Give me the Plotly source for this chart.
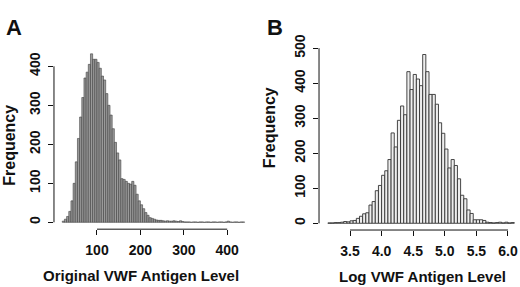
import numpy as np
import plotly.graph_objects as go

# ---------------- Data ----------------
# Panel A: original VWF antigen level histogram (bin width 5, starting at 20)
a_bin_start = 20
a_bin_width = 5
a_counts = [3, 8, 15, 28, 55, 100, 155, 215, 270, 320,
            370, 385, 405, 432, 418, 418, 410, 395, 375, 365,
            330, 300, 275, 240, 205, 178, 160, 112, 110, 105,
            100, 98, 105, 95, 72, 55, 45, 35, 25, 18,
            12, 10, 8, 6, 5, 5, 4, 3, 4, 3,
            3, 4, 3, 2, 4, 2, 1, 1, 1, 0,
            1, 1, 0, 1, 1, 0, 1, 1, 0, 1,
            1, 0, 1, 1, 0, 1, 3, 1, 0, 1,
            1, 0, 1, 1]
a_xticks = [100, 200, 300, 400]
a_yticks = [0, 100, 200, 300, 400]

# Panel B: log VWF antigen level histogram (bin width 0.05, starting at 3.15)
b_bin_start = 3.15
b_bin_width = 0.05
b_counts = [1, 1, 2, 2, 3, 5, 4, 7, 8, 14,
            20, 27, 30, 52, 62, 93, 108, 137, 150, 182,
            258, 218, 294, 335, 310, 433, 382, 425, 412, 393,
            482, 433, 368, 368, 340, 287, 257, 212, 158, 182,
            165, 127, 80, 70, 38, 28, 10, 10, 10, 8,
            3, 2, 1, 2, 3, 1, 3, 1, 2]
b_xticks = [3.5, 4.0, 4.5, 5.0, 5.5, 6.0]
b_xticklabels = ["3.5", "4.0", "4.5", "5.0", "5.5", "6.0"]
b_yticks = [0, 100, 200, 300, 400, 500]

# ---------------- Figure ----------------
FONT = "Liberation Sans, Arial, sans-serif"

a_x = a_bin_start + a_bin_width * (np.arange(len(a_counts)) + 0.5)
b_x = b_bin_start + b_bin_width * (np.arange(len(b_counts)) + 0.5)

fig = go.Figure()
fig.add_trace(go.Bar(
    x=a_x, y=a_counts, width=a_bin_width,
    marker=dict(color="#9a9a9a", line=dict(color="#404040", width=0.6)),
    xaxis="x", yaxis="y", showlegend=False, hoverinfo="skip"))
fig.add_trace(go.Bar(
    x=b_x, y=b_counts, width=b_bin_width,
    marker=dict(color="#eeeeee", line=dict(color="#333333", width=0.9)),
    xaxis="x2", yaxis="y2", showlegend=False, hoverinfo="skip"))

tickfont = dict(family=FONT, size=14, color="#111111", weight="bold")
common_x = dict(showgrid=False, zeroline=False, showline=False, ticks="outside",
                ticklen=5, tickwidth=1, tickcolor="#111111", tickfont=tickfont,
                ticklabelstandoff=3)
common_y = dict(showgrid=False, zeroline=False, showline=False, ticks="outside",
                ticklen=5, tickwidth=1, tickcolor="#111111", tickfont=tickfont,
                tickangle=-90, ticklabelstandoff=2)

fig.update_layout(
    width=520, height=287,
    margin=dict(l=0, r=0, t=0, b=0),
    paper_bgcolor="white", plot_bgcolor="white",
    bargap=0,
    font=dict(family=FONT),
    xaxis=dict(domain=[0.1038, 0.4846], range=[0.9, 457.1],
               tickvals=a_xticks, anchor="y", **common_x),
    yaxis=dict(domain=[0.2118, 0.8868], range=[-17.6, 454.9],
               tickvals=a_yticks, anchor="x", **common_y),
    xaxis2=dict(domain=[0.6135, 1.0], range=[3.0095, 6.19],
                tickvals=b_xticks, ticktext=b_xticklabels, anchor="y2", **common_x),
    yaxis2=dict(domain=[0.2087, 0.876], range=[-19.3, 501],
                tickvals=b_yticks, anchor="x2", **common_y),
)

# R-style axis lines spanning only the tick range
line = dict(color="#111111", width=1)
fig.add_shape(type="line", xref="x", yref="y domain", x0=a_xticks[0], x1=a_xticks[-1], y0=0, y1=0, line=line)
fig.add_shape(type="line", xref="x domain", yref="y", x0=0, x1=0, y0=a_yticks[0], y1=a_yticks[-1], line=line)
fig.add_shape(type="line", xref="x2", yref="y2 domain", x0=b_xticks[0], x1=b_xticks[-1], y0=0, y1=0, line=line)
fig.add_shape(type="line", xref="x2 domain", yref="y2", x0=0, x1=0, y0=b_yticks[0], y1=b_yticks[-1], line=line)

def px(xp, yp):
    return xp / 520, 1 - yp / 287

annots = [
    ("<b>A</b>", 14, 14.5, 22, 0),
    ("<b>B</b>", 275, 14.5, 22, 0),
    ("<b>Frequency</b>", 9.5, 138, 16, -90),
    ("<b>Frequency</b>", 269, 120, 16, -90),
    ("<b>Original VWF Antigen Level</b>", 141, 275, 15, 0),
    ("<b>Log VWF Antigen Level</b>", 422, 276, 15, 0),
]
for text, xp, yp, size, ang in annots:
    ax, ay = px(xp, yp)
    fig.add_annotation(text=text, x=ax, y=ay, xref="paper", yref="paper",
                       xanchor="center", yanchor="middle", showarrow=False,
                       textangle=ang, font=dict(family=FONT, size=size, color="#111111"))

fig.write_html("out.html",
               config={"displayModeBar": False, "staticPlot": True},
               post_script="document.body.style.margin='0px';document.body.style.overflow='hidden';")
